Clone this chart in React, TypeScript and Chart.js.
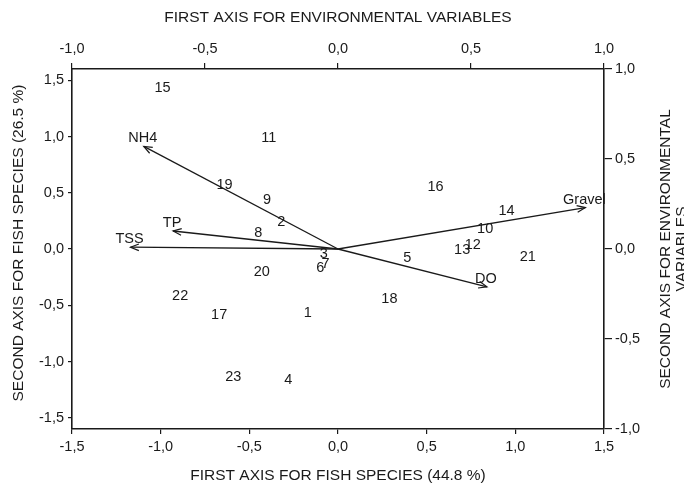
import React, { useEffect, useRef } from "react";
import Chart from "chart.js/auto";

// Site / species scores (bottom & left axes)
const siteLabels = ["1","2","3","4","5","6","7","8","9","10","11","12","13","14","15","16","17","18","19","20","21","22","23"];
const siteX = [-0.17,-0.32,-0.08,-0.28,0.39,-0.10,-0.07,-0.45,-0.40,0.83,-0.39,0.76,0.70,0.95,-0.99,0.55,-0.67,0.29,-0.64,-0.43,1.07,-0.89,-0.59];
const siteY = [-0.57,0.24,-0.04,-1.16,-0.08,-0.17,-0.13,0.14,0.44,0.18,0.99,0.04,-0.01,0.34,1.43,0.55,-0.59,-0.44,0.57,-0.20,-0.07,-0.42,-1.14];

// Environmental variable vectors (top & right axes)
const envLabels = ["NH4","TP","TSS","Gravel","DO"];
const envX = [-0.73,-0.62,-0.78,0.93,0.56];
const envY = [0.57,0.10,0.01,0.23,-0.21];

// Tick values
const bottomTicks = [-1.5,-1.0,-0.5,0.0,0.5,1.0,1.5];
const leftTicks = [-1.5,-1.0,-0.5,0.0,0.5,1.0,1.5];
const topTicks = [-1.0,-0.5,0.0,0.5,1.0];
const rightTicks = [-1.0,-0.5,0.0,0.5,1.0];

const titleTop = "FIRST AXIS FOR ENVIRONMENTAL VARIABLES";
const titleBottom = "FIRST AXIS FOR FISH SPECIES (44.8 %)";
const titleLeft = "SECOND AXIS FOR FISH SPECIES (26.5 %)";
const titleRight = ["SECOND AXIS FOR ENVIRONMENTAL", "VARIABLES"];

const FONT = "'Liberation Sans', Arial, sans-serif";
const INK = "#1a1a1a";

const fmt = (v: any) => Number(v).toFixed(1).replace(".", ",");

export default function App() {
  const ref = useRef<HTMLCanvasElement | null>(null);
  useEffect(() => {
    if (!ref.current) return;

    const labelsPlugin = {
      id: "labelsPlugin",
      afterDatasetsDraw(chart: any) {
        const ctx = chart.ctx;
        const sx = chart.scales.x, sy = chart.scales.y;
        const ex = chart.scales.x2, ey = chart.scales.y2;
        ctx.save();
        ctx.fillStyle = INK;
        ctx.font = `14.5px ${FONT}`;
        ctx.textAlign = "center";
        ctx.textBaseline = "middle";
        siteLabels.forEach((l, i) => {
          ctx.fillText(l, sx.getPixelForValue(siteX[i]), sy.getPixelForValue(siteY[i]));
        });
        // arrow heads + labels
        const ox = ex.getPixelForValue(0), oy = ey.getPixelForValue(0);
        ctx.strokeStyle = INK;
        ctx.lineWidth = 1.2;
        envLabels.forEach((l, i) => {
          const tx = ex.getPixelForValue(envX[i]);
          const ty = ey.getPixelForValue(envY[i]);
          const a = Math.atan2(ty - oy, tx - ox);
          const len = 9, sp = 0.38;
          ctx.beginPath();
          ctx.moveTo(tx - len * Math.cos(a - sp), ty - len * Math.sin(a - sp));
          ctx.lineTo(tx, ty);
          ctx.lineTo(tx - len * Math.cos(a + sp), ty - len * Math.sin(a + sp));
          ctx.stroke();
          ctx.fillText(l, tx - 1, ty - 8);
        });
        ctx.restore();
      },
      afterDraw(chart: any) {
        const ctx = chart.ctx;
        const ca = chart.chartArea;
        const cx = (ca.left + ca.right) / 2;
        const cy = (ca.top + ca.bottom) / 2;
        ctx.save();
        ctx.fillStyle = INK;
        ctx.font = `15.5px ${FONT}`;
        ctx.textAlign = "center";
        ctx.textBaseline = "middle";
        ctx.fillText(titleTop, cx, 18);
        ctx.fillText(titleBottom, cx, 476);
        ctx.save();
        ctx.translate(19, cy - 6);
        ctx.rotate(-Math.PI / 2);
        ctx.fillText(titleLeft, 0, 0);
        ctx.restore();
        titleRight.forEach((t, i) => {
          ctx.save();
          ctx.translate(666 + i * 16, cy);
          ctx.rotate(-Math.PI / 2);
          ctx.fillText(t, 0, 0);
          ctx.restore();
        });
        ctx.restore();
      },
    };

    const tickFont = { family: FONT, size: 14.5 };
    const axisCommon = (ticksArr: number[], tickLength: number, padding: number, size: number, horizontal: boolean) => ({
      type: "linear" as const,
      afterBuildTicks: (s: any) => { s.ticks = ticksArr.map((v) => ({ value: v })); },
      afterFit: (s: any) => { if (horizontal) s.height = size; else s.width = size; },
      ticks: { callback: fmt, font: tickFont, color: INK, padding, autoSkip: false, maxRotation: 0 },
      grid: { drawOnChartArea: false, drawTicks: true, tickLength, color: INK, lineWidth: 1.2 },
      border: { display: true, color: INK, width: 1.6 },
      title: { display: false },
    });

    const datasets: any[] = [
      {
        type: "scatter",
        label: "sites",
        data: siteX.map((x, i) => ({ x, y: siteY[i] })),
        xAxisID: "x",
        yAxisID: "y",
        pointRadius: 0,
        pointHoverRadius: 0,
      },
      ...envLabels.map((l, i) => ({
        type: "line",
        label: l,
        data: [{ x: 0, y: 0 }, { x: envX[i], y: envY[i] }],
        xAxisID: "x2",
        yAxisID: "y2",
        borderColor: INK,
        borderWidth: 1.3,
        pointRadius: 0,
        fill: false,
        tension: 0,
      })),
    ];

    const chart = new Chart(ref.current, {
      type: "scatter",
      data: { datasets },
      plugins: [labelsPlugin],
      options: {
        animation: false,
        responsive: false,
        devicePixelRatio: 1,
        layout: { padding: 0 },
        plugins: { legend: { display: false }, tooltip: { enabled: false } },
        scales: {
          x: { ...axisCommon(bottomTicks, 5, 4, 57, true), position: "bottom", min: -1.5, max: 1.5 },
          x2: { ...axisCommon(topTicks, 6, 5, 69, true), position: "top", min: -1, max: 1 },
          y: { ...axisCommon(leftTicks, 4, 4, 72, false), position: "left", min: -1.6, max: 1.6 },
          y2: { ...axisCommon(rightTicks, 8, 3, 80, false), position: "right", min: -1, max: 1 },
        } as any,
      } as any,
    });
    return () => chart.destroy();
  }, []);

  return (
    <div style={{ position: "fixed", left: 0, top: 0, width: 684, height: 486, background: "#fff" }}>
      <canvas ref={ref} width={684} height={486} style={{ width: 684, height: 486 }} />
    </div>
  );
}
